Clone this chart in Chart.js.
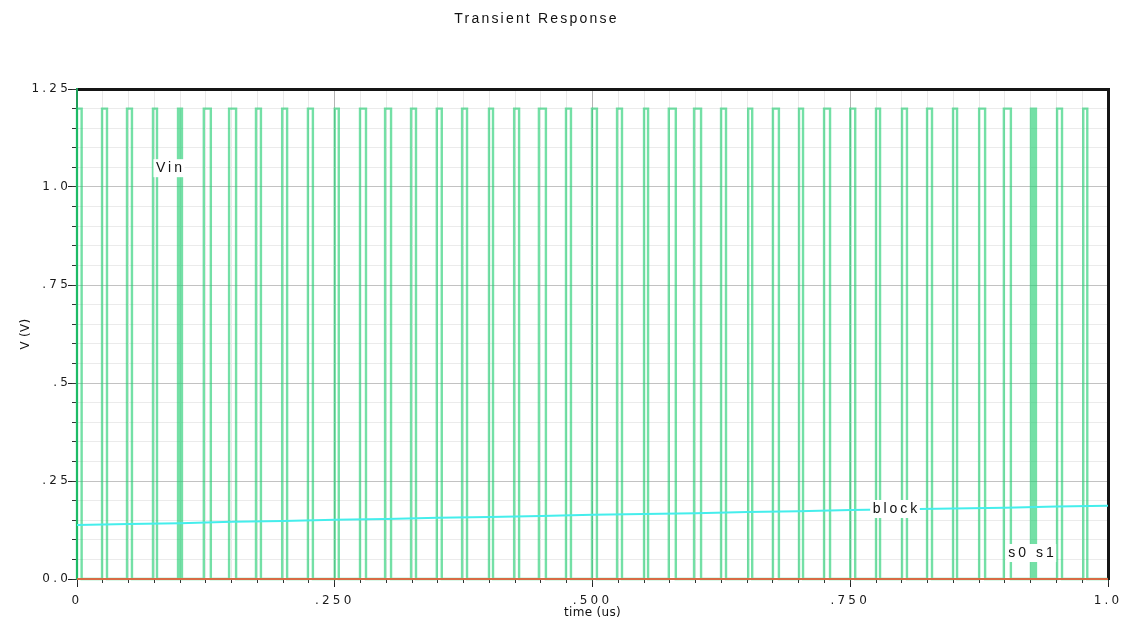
<!DOCTYPE html>
<html>
<head>
<meta charset="utf-8">
<title>Transient Response</title>
<script src="https://cdn.jsdelivr.net/npm/chart.js@4/dist/chart.umd.min.js"></script>
<style>
  html, body { margin: 0; padding: 0; background: #ffffff; }
  #wrap { width: 1132px; height: 622px; }
</style>
</head>
<body>
<div id="wrap"><canvas id="chart" width="1132" height="622"></canvas></div>
<script>
// Vin pulse train: rising-edge times (us) and pulse widths (us)
const vinStarts = [0, 0.0243, 0.0485, 0.0737, 0.098, 0.1, 0.123, 0.1475, 0.1736, 0.199,
  0.224, 0.25, 0.2745, 0.2988, 0.324, 0.349, 0.3735, 0.3996, 0.424, 0.448,
  0.4743, 0.4995, 0.5238, 0.55, 0.574, 0.5985, 0.6247, 0.651, 0.675, 0.7003,
  0.7246, 0.75, 0.775, 0.8002, 0.8245, 0.8497, 0.875, 0.899, 0.9253, 0.9285,
  0.9506, 0.976];
const vinWidths = [0.0045, 0.0048, 0.0048, 0.0039, 0.0019, 0.0018, 0.0068, 0.0068, 0.0048, 0.0048,
  0.0048, 0.0039, 0.0058, 0.0058, 0.0048, 0.0048, 0.0048, 0.0039, 0.0048, 0.0068,
  0.0048, 0.0048, 0.0048, 0.0039, 0.0068, 0.0068, 0.0048, 0.0039, 0.0058, 0.0039,
  0.0058, 0.0048, 0.0039, 0.0048, 0.0048, 0.0039, 0.0058, 0.0068, 0.0016, 0.0016,
  0.0048, 0.0039];
const vinHigh = 1.2;
const vinLow = 0;

// block node voltage (V) over time (us)
const blockTimes = [0, 0.05, 0.1, 0.15, 0.2, 0.25, 0.3, 0.35, 0.4, 0.45, 0.5,
  0.55, 0.6, 0.65, 0.7, 0.75, 0.8, 0.85, 0.9, 0.95, 1.0];
const blockValues = [0.138, 0.140, 0.142, 0.146, 0.148, 0.151, 0.153, 0.156, 0.158, 0.161, 0.164,
  0.166, 0.168, 0.171, 0.173, 0.176, 0.178, 0.180, 0.182, 0.185, 0.187];

// s0 / s1 outputs stay low for the whole run
const s0Times = [0, 1.0];
const s0Values = [0, 0];
const s1Times = [0, 1.0];
const s1Values = [0, 0];

// axis tick labels
const xTickLabels = ['0', '.250', '.500', '.750', '1.0'];
const yTickLabels = ['0.0', '.25', '.5', '.75', '1.0', '1.25'];

// trace name tags and where they sit (time, volts)
const tagTexts = ['Vin', 'block', 's0 s1'];
const tagTimes = [0.0892, 0.7934, 0.9253];
const tagVolts = [1.048, 0.1786, 0.0663];

// ---- build point lists ----
function pulsePoints(starts, widths, lo, hi) {
  const pts = [];
  for (let i = 0; i < starts.length; i++) {
    const s = starts[i], e = starts[i] + widths[i];
    pts.push({x: s, y: lo}, {x: s, y: hi}, {x: e, y: hi}, {x: e, y: lo});
  }
  pts.push({x: 1.0, y: lo});
  return pts;
}
function pairPoints(xs, ys) {
  return xs.map((x, i) => ({x: x, y: ys[i]}));
}

// ---- per-text letter spacing ----
const scaleSpacing = {
  x: {ticks: '3.2px', title: '0.3px'},
  y: {ticks: '3.2px', title: '0.3px'}
};
if (Chart.LinearScale && Chart.LinearScale.prototype) {
  const LS = Chart.LinearScale.prototype;
  const baseLabels = LS.drawLabels;
  const baseTitle = LS.drawTitle;
  LS.drawLabels = function (area) {
    const c = this.ctx;
    c.save();
    c.letterSpacing = (scaleSpacing[this.id] || {}).ticks || '0px';
    baseLabels.call(this, area);
    c.restore();
  };
  LS.drawTitle = function (area) {
    const c = this.ctx;
    c.save();
    c.letterSpacing = (scaleSpacing[this.id] || {}).title || '0px';
    baseTitle.call(this, area);
    c.restore();
  };
}

const spacingPlugin = {
  id: 'titleSpacing',
  beforeDraw(chart) {
    chart.ctx.letterSpacing = '2.2px';
  }
};

const tagPlugin = {
  id: 'traceTags',
  afterDatasetsDraw(chart) {
    const ctx = chart.ctx;
    const xs = chart.scales.x, ys = chart.scales.y;
    ctx.save();
    ctx.font = '14px "Liberation Sans", Arial, sans-serif';
    ctx.letterSpacing = '3px';
    ctx.textAlign = 'center';
    ctx.textBaseline = 'middle';
    for (let i = 0; i < tagTexts.length; i++) {
      const px = xs.getPixelForValue(tagTimes[i]);
      const py = ys.getPixelForValue(tagVolts[i]);
      const w = ctx.measureText(tagTexts[i]).width;
      ctx.fillStyle = '#ffffff';
      ctx.fillRect(px - w / 2 - 1, py - 9, w + 2, 18);
      ctx.fillStyle = '#111111';
      ctx.fillText(tagTexts[i], px + 1.5, py);
    }
    ctx.restore();
  }
};

const tickFont = {family: '"DejaVu Sans", sans-serif', size: 12};
const axisTitleFont = {family: '"DejaVu Sans", sans-serif', size: 12};
const isMajor = (v, step) => Math.abs(v / step - Math.round(v / step)) < 1e-6;

new Chart(document.getElementById('chart'), {
  type: 'line',
  data: {
    datasets: [
      {label: 's0', data: pairPoints(s0Times, s0Values), borderColor: '#d86b45', borderWidth: 2},
      {label: 's1', data: pairPoints(s1Times, s1Values), borderColor: '#d86b45', borderWidth: 2},
      {label: 'block', data: pairPoints(blockTimes, blockValues), borderColor: '#45eeec', borderWidth: 2},
      {label: 'Vin', data: pulsePoints(vinStarts, vinWidths, vinLow, vinHigh),
        borderColor: 'rgba(30, 205, 112, 0.62)', borderWidth: 2.4}
    ]
  },
  options: {
    responsive: false,
    animation: false,
    devicePixelRatio: 1,
    layout: {padding: {left: -35, right: 24, top: 0, bottom: 0}},
    elements: {
      point: {radius: 0, hoverRadius: 0},
      line: {tension: 0, borderJoinStyle: 'miter', borderCapStyle: 'butt'}
    },
    datasets: {line: {clip: 3}},
    plugins: {
      legend: {display: false},
      tooltip: {enabled: false},
      title: {
        display: true,
        text: 'Transient Response',
        color: '#111111',
        font: {family: '"Liberation Sans", Arial, sans-serif', size: 14, weight: 'normal'},
        padding: {top: 11, bottom: 61.2}
      }
    },
    scales: {
      x: {
        type: 'linear', position: 'bottom', min: 0, max: 1.0, weight: 1,
        ticks: {stepSize: 0.25, color: '#1a1a1a', font: tickFont, padding: 7, maxRotation: 0,
          callback: (v, i) => xTickLabels[i]},
        grid: {color: '#b4b4b4', lineWidth: 1, tickLength: 8, tickColor: '#222222'},
        border: {color: '#333333', width: 1},
        title: {display: true, text: 'time (us)', color: '#111111', font: axisTitleFont,
          padding: {top: 0, bottom: 2}},
        afterFit: s => { s.height = 43; }
      },
      xMinor: {
        type: 'linear', position: 'bottom', min: 0, max: 1.0, weight: 0,
        ticks: {stepSize: 0.025, display: false},
        grid: {color: c => isMajor(c.tick.value, 0.25) ? 'rgba(0,0,0,0)' : '#e9e9e9',
          lineWidth: 1, tickLength: 4, tickColor: '#333333'},
        border: {display: false},
        afterFit: s => { s.height = 0; }
      },
      xTop: {
        type: 'linear', position: 'top', min: 0, max: 1.0,
        ticks: {display: false},
        grid: {drawOnChartArea: false, drawTicks: false},
        border: {color: '#151515', width: 3},
        afterFit: s => { s.height = 0; }
      },
      y: {
        type: 'linear', position: 'left', min: 0, max: 1.25, weight: 1,
        ticks: {stepSize: 0.25, color: '#1a1a1a', font: tickFont, padding: -3,
          callback: (v, i) => yTickLabels[i]},
        grid: {color: '#c2c2c2', lineWidth: 1, tickLength: 9, tickColor: '#222222'},
        border: {color: '#1f9e58', width: 2},
        title: {display: true, text: 'V (V)', color: '#111111', font: axisTitleFont,
          padding: {top: 54, bottom: 0}},
        afterFit: s => { s.width = 112; }
      },
      yMinor: {
        type: 'linear', position: 'left', min: 0, max: 1.25, weight: 0,
        ticks: {stepSize: 0.05, display: false},
        grid: {color: c => isMajor(c.tick.value, 0.25) ? 'rgba(0,0,0,0)' : '#ebebeb',
          lineWidth: 1, tickLength: 5, tickColor: '#333333'},
        border: {display: false},
        afterFit: s => { s.width = 0; }
      },
      yRight: {
        type: 'linear', position: 'right', min: 0, max: 1.25,
        ticks: {display: false},
        grid: {drawOnChartArea: false, drawTicks: false},
        border: {color: '#151515', width: 3},
        afterFit: s => { s.width = 0; }
      }
    }
  },
  plugins: [spacingPlugin, tagPlugin]
});
</script>
</body>
</html>
